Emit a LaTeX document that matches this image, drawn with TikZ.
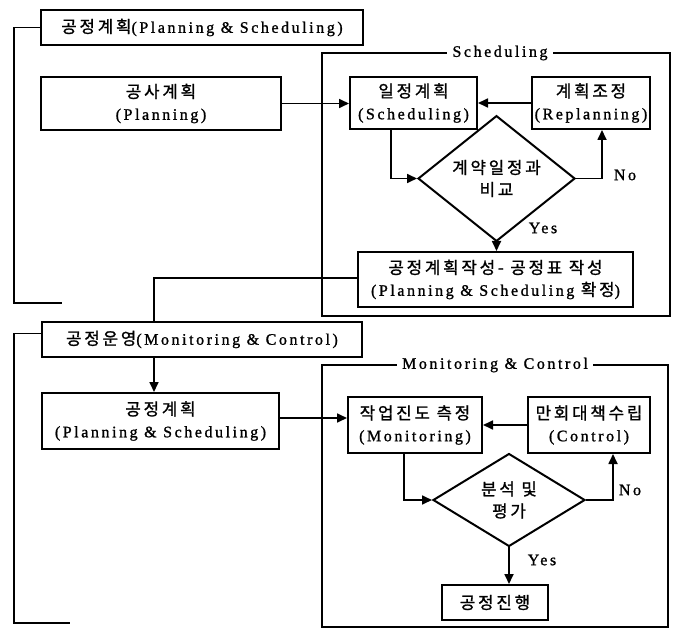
\documentclass[tikz,border=0pt]{standalone}
\usepackage{fontspec}
\setmainfont[LetterSpace=16,FakeBold=1.2]{Liberation Serif}
\newfontfamily\kr[Scale=1.05,FakeBold=1.2]{Noto Sans CJK KR}
\makeatletter
\newcommand\kk[1]{{\kr\kk@loop#1\@nil\unskip}}
\def\kk@loop#1{\ifx#1\@nil\else#1\hskip2.8pt\relax\expandafter\kk@loop\fi}
\makeatother
\usetikzlibrary{arrows.meta}
\usetikzlibrary{shapes.geometric}
\newcommand\fs{\fontsize{16}{22}\selectfont}
\tikzset{
 box/.style={draw, line width=2pt, inner sep=0pt, align=center, font=\fs},
 dia/.style={draw, diamond, line width=2pt, inner sep=0pt, align=center, font=\fs},
 arr/.style={line width=1.7pt, -{Triangle[length=10pt,width=9pt]}},
 lin/.style={line width=1.7pt},
 frm/.style={line width=1.7pt},
 lbl/.style={font=\fs, inner sep=1pt}
}

\begin{document}
\begin{tikzpicture}[x=1pt,y=-1pt]
\useasboundingbox (0,0) rectangle (680,631);
\foreach \ya/\yb/\xb/\xl/\txt in {53/316/670/500/Scheduling, 365/627/668/495/Monitoring \& Control} {
 \draw[frm] (322,\ya) rectangle (\xb,\yb);
 \node[fill=white, inner sep=5pt, font=\fs] (lab\ya) at (\xl,\ya) {\txt};
}
\node[box, minimum width=322, minimum height=35] (plan1) at (202,27.5) {\kk{공정계획}(Planning \& Scheduling)};
\node[box, minimum width=240, minimum height=53] (gongsa) at (161,103.5) {\kk{공사계획}\\(Planning)};
\node[box, minimum width=127, minimum height=52] (ilj) at (413.5,103) {\kk{일정계획}\\(Scheduling)};
\node[box, minimum width=118, minimum height=52] (jojeong) at (591,103) {\kk{계획조정}\\(Replanning)};
\node[dia, minimum width=157, minimum height=73] (cmp) at (496.5,178.5) {\kk{계약일정과}\\\kk{비교}};
\node[box, minimum width=275, minimum height=55] (final1) at (495.5,279.5) {\kk{공정계획작성-}\ \kk{공정표}\ \kk{작성}\\(Planning \& Scheduling \kk{확정})};
\node[box, minimum width=320, minimum height=35] (plan2) at (202,339.5) {\kk{공정운영}(Monitoring \& Control)};
\node[box, minimum width=237, minimum height=56] (gplan) at (160.5,421) {\kk{공정계획}\\(Planning \& Scheduling)};
\node[box, minimum width=134, minimum height=56] (meas) at (415,425) {\kk{작업진도}\ \kk{측정}\\(Monitoring)};
\node[box, minimum width=122, minimum height=56] (ctrl) at (589,425) {\kk{만회대책수립}\\(Control)};
\node[dia, minimum width=152, minimum height=74] (eval) at (509,500) {\kk{분석}\ \kk{및}\\\kk{평가}};
\node[box, minimum width=106, minimum height=35] (prog) at (495,602.5) {\kk{공정진행}};
\coordinate (b1) at (14,303);
\coordinate (b1end) at (62,303);
\coordinate (b2) at (14,623);
\coordinate (b2end) at (70,623);
\coordinate (c1) at ([xshift=-48pt]plan2.north);
\coordinate (c2) at ([xshift=-48pt]plan2.south);
\draw[lin] (plan1.west) -| (b1) -- (b1end);
\draw[lin] ([yshift=6pt]plan2.west) -| (b2) -- (b2end);
\draw[arr] (gongsa.east) -- (gongsa.east -| ilj.west);
\draw[arr] (jojeong.west) -- (ilj.east);
\draw[arr] ([xshift=-22.5pt]ilj.south) |- (cmp.west);
\draw[arr] (cmp.east) -| ([xshift=11pt]jojeong.south);
\draw[arr] (cmp.south) -- (cmp.south |- final1.north);
\draw[lin] ([yshift=1.5pt]final1.west) -| (c1);
\draw[arr] (c2) -- (c2 |- gplan.north);
\draw[arr] ([yshift=3pt]gplan.east) -- ([yshift=3pt]gplan.east -| meas.west);
\draw[arr] (ctrl.west) -- (meas.east);
\draw[arr] ([xshift=-11pt]meas.south) |- (eval.west);
\draw[arr] (eval.east) -| ([xshift=24pt]ctrl.south);
\draw[arr] (eval.south) -- (eval.south |- prog.north);
\node[lbl] (no1) at (625,175) {No};
\node[lbl] (yes1) at (543,228) {Yes};
\node[lbl] (no2) at (630,490) {No};
\node[lbl] (yes2) at (542,560) {Yes};
\end{tikzpicture}
\end{document}
